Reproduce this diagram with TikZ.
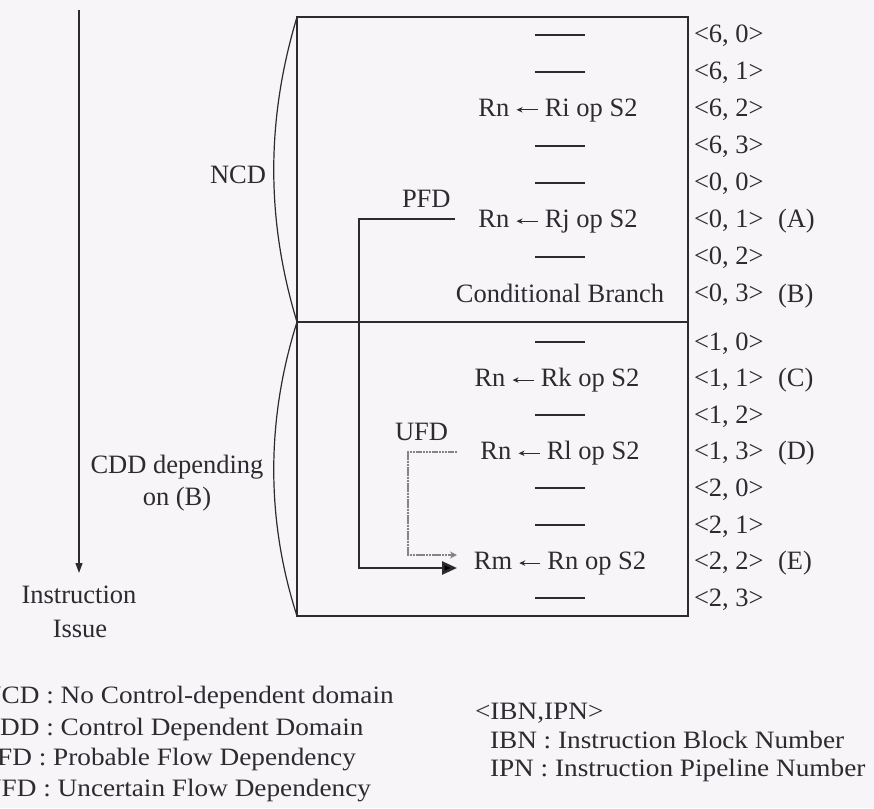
\documentclass[tikz,border=0pt]{standalone}
\usepackage{fontspec}
\setmainfont{Liberation Serif}
\usepackage{graphicx}
\usetikzlibrary{arrows.meta}
\definecolor{ink}{RGB}{45,42,48}
\definecolor{bgc}{RGB}{247,245,247}
\definecolor{ufdc}{RGB}{135,130,135}
\newcommand{\myla}{\tikz[baseline=0pt]\draw[ink,line width=1.1pt,-{Stealth[length=6pt,width=5.5pt]}] (21pt,6.5pt)--(0pt,6.5pt);}
\newcommand{\mainsize}{\fontsize{26.5}{31}\selectfont}
\newcommand{\legsize}{\fontsize{25}{30}\selectfont}
\newcommand{\legtxt}[1]{\scalebox{1.09}[1]{#1}}
\begin{document}
\begin{tikzpicture}[x=1pt,y=-1pt,
  every node/.style={inner sep=0pt, outer sep=0pt, text=ink, font=\mainsize},
  instr/.style={anchor=base},
  lbl/.style={anchor=base west},
  dashline/.style={draw=ink, line width=2pt},
  leg/.style={anchor=base west, font=\legsize},
  pfdline/.style={draw=ink, line width=2.6pt, -{Triangle[length=15pt,width=13pt]}},
  ufdline/.style={draw=ufdc, line width=2.6pt, dash pattern=on 2.5pt off 0.7pt, -{Stealth[length=7pt,width=7pt]}},
  bracel/.style={draw=ink, line width=1.2pt},
]
\fill[bgc] (0,0) rectangle (874,808);
\useasboundingbox (0,0) rectangle (874,808);

% instruction issue arrow
\node[instr] (ins1) at (79,603) {Instruction};
\node[instr] (ins2) at (80,637) {Issue};
\coordinate (arrtop) at (79,10);
\coordinate (arrtip) at (79,573);
\draw[ink, line width=1.2pt, -{Triangle[length=10pt,width=7pt]}] (arrtop) -- (arrtip);

% box
\coordinate (bTL) at (297,17);
\coordinate (bBR) at (688,616);
\coordinate (dL) at (297,322);
\coordinate (dR) at (688,322);
\coordinate (bBL) at (297,616);
\draw[ink, line width=1.5pt] (bTL) rectangle (bBR);
\draw[ink, line width=1.5pt] (dL) -- (dR);

% braces
\draw[bracel] (bTL) .. controls (266,120) and (266,220) .. (dL);
\draw[bracel] (dL) .. controls (266,420) and (266,520) .. (bBL);
\node[lbl] (ncd) at (210,183) {NCD};
\node[instr] (cdd1) at (177,473) {CDD depending};
\node[instr] (cdd2) at (177,505) {on (B)};

% right labels
\foreach \t [count=\i from 0] in {{<6, 0>},{<6, 1>},{<6, 2>},{<6, 3>},{<0, 0>},{<0, 1>},{<0, 2>},{<0, 3>}}
  \node[lbl] (tl\i) at (694,{42+37.14*\i}) {\t};
\foreach \t [count=\i from 0] in {{<1, 0>},{<1, 1>},{<1, 2>},{<1, 3>},{<2, 0>},{<2, 1>},{<2, 2>},{<2, 3>}}
  \node[lbl] (bl\i) at (694,{350+36.6*\i}) {\t};
\node[lbl] (tagA) at (778,227.7) {(A)};
\node[lbl] (tagB) at (778,302) {(B)};
\node[lbl] (tagC) at (778,386.6) {(C)};
\node[lbl] (tagD) at (778,459.8) {(D)};
\node[lbl] (tagE) at (778,569.6) {(E)};

% center column dashes
\foreach \y in {35,72,146,183,257,342,415,488,525,598}
  \draw[dashline] (535,\y) -- (585,\y);

% instructions
\node[instr] (ri) at (558,116.3) {Rn \myla{} Ri op S2};
\node[instr] (rj) at (558,227.7) {Rn \myla{} Rj op S2};
\node[instr] (cb) at (560,302) {Conditional Branch};
\node[instr] (rk) at (557,386.6) {Rn \myla{} Rk op S2};
\node[instr] (rl) at (560,459.8) {Rn \myla{} Rl op S2};
\node[instr] (rm) at (560,569.6) {Rm \myla{} Rn op S2};

% PFD
\node[lbl] (pfd) at (402,207) {PFD};
\coordinate (pfdS) at (455,219);
\coordinate (pfdE) at (457,568);
\draw[pfdline] (pfdS) -- (359,219) |- (pfdE);

% UFD
\node[lbl] (ufd) at (395,440) {UFD};
\coordinate (ufdS) at (457,452);
\coordinate (ufdE) at (457,555);
\draw[ufdline] (ufdS) -- (408,452) |- (ufdE);

% legend
\node[leg] (lg1) at (-18,703) {\legtxt{NCD : No Control-dependent domain}};
\node[leg] (lg2) at (-18,735) {\legtxt{CDD : Control Dependent Domain}};
\node[leg] (lg3) at (-18,765) {\legtxt{PFD : Probable Flow Dependency}};
\node[leg] (lg4) at (-18,796) {\legtxt{UFD : Uncertain Flow Dependency}};
\node[leg] (lg5) at (475,719) {\legtxt{<IBN,IPN>}};
\node[leg] (lg6) at (490,748) {\legtxt{IBN : Instruction Block Number}};
\node[leg] (lg7) at (490,776) {\legtxt{IPN : Instruction Pipeline Number}};
\end{tikzpicture}
\end{document}
